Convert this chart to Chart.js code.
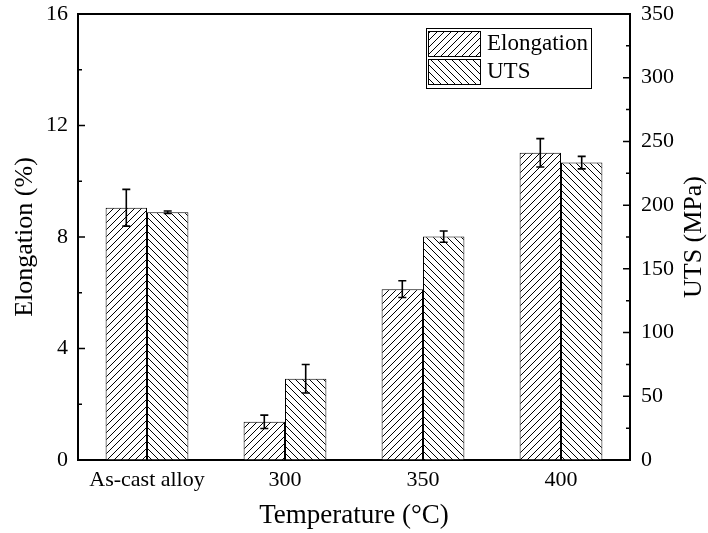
<!DOCTYPE html>
<html lang="en">
<head>
    <meta charset="UTF-8">
    <title>Elongation and UTS vs Temperature</title>
    <script src="https://cdn.jsdelivr.net/npm/chart.js"></script>
    <style>
body {
    margin: 0;
    padding: 0;
    background: #fff;
}

.wrap {
    width: 708px;
    height: 533px;
}
    </style>
</head>
<body>

    <div class="wrap">
        <canvas id="tensileChart" width="708" height="533"></canvas>
    </div>

    <script>
        const categories = ["As-cast alloy", "300", "350", "400"];
        const elongation = [9.05, 1.37, 6.13, 11.02];
        const elongationErr = [0.66, 0.24, 0.30, 0.51];
        const uts = [194.4, 63.8, 175.3, 233.4];
        const utsErr = [1.0, 11.2, 4.4, 4.9];

        const leftTicks = [0, 4, 8, 12, 16];
        const rightTicks = [0, 50, 100, 150, 200, 250, 300, 350];

        const SERIF = "'Liberation Serif', 'Times New Roman', serif";

        // diagonal hatch fill, dir 1 = "///", dir -1 = "\\\"
        function hatch(dir) {
            const n = 7;
            const c = document.createElement("canvas");
            c.width = n;
            c.height = n;
            const g = c.getContext("2d");
            g.fillStyle = "#fff";
            g.fillRect(0, 0, n, n);
            g.strokeStyle = "#000";
            g.lineWidth = 1;
            g.beginPath();
            if (dir > 0) {
                g.moveTo(-1, n + 1); g.lineTo(n + 1, -1);
                g.moveTo(-1, 1); g.lineTo(1, -1);
                g.moveTo(n - 1, n + 1); g.lineTo(n + 1, n - 1);
            } else {
                g.moveTo(-1, -1); g.lineTo(n + 1, n + 1);
                g.moveTo(n - 1, -1); g.lineTo(n + 1, 1);
                g.moveTo(-1, n - 1); g.lineTo(1, n + 1);
            }
            g.stroke();
            return g.createPattern(c, "repeat");
        }

        const errors = [elongationErr, utsErr];

        const errorBars = {
            id: "errorBars",
            afterDatasetsDraw(chart) {
                const ctx = chart.ctx;
                ctx.save();
                ctx.strokeStyle = "#000";
                ctx.lineWidth = 1.6;
                chart.data.datasets.forEach((ds, i) => {
                    const meta = chart.getDatasetMeta(i);
                    const scale = chart.scales[meta.yAxisID];
                    meta.data.forEach((bar, j) => {
                        const v = ds.data[j];
                        const e = errors[i][j];
                        const yTop = scale.getPixelForValue(v + e);
                        const yBot = scale.getPixelForValue(v - e);
                        ctx.beginPath();
                        ctx.moveTo(bar.x, yTop); ctx.lineTo(bar.x, yBot);
                        ctx.moveTo(bar.x - 4, yTop); ctx.lineTo(bar.x + 4, yTop);
                        ctx.moveTo(bar.x - 4, yBot); ctx.lineTo(bar.x + 4, yBot);
                        ctx.stroke();
                    });
                });
                ctx.restore();
            }
        };

        // top frame line, inward ticks, legend box, right axis title
        const decorations = {
            id: "decorations",
            afterDraw(chart) {
                const ctx = chart.ctx;
                const area = chart.chartArea;
                const yL = chart.scales.y;
                const yR = chart.scales.y1;
                ctx.save();
                ctx.strokeStyle = "#000";

                ctx.lineWidth = 2;
                ctx.beginPath();
                ctx.moveTo(area.left - 1, area.top);
                ctx.lineTo(area.right + 1, area.top);
                ctx.stroke();

                ctx.lineWidth = 1.5;
                ctx.beginPath();
                for (let i = 0; i < leftTicks.length; i++) {
                    const y = yL.getPixelForValue(leftTicks[i]);
                    ctx.moveTo(area.left, y); ctx.lineTo(area.left + 7, y);
                    if (i < leftTicks.length - 1) {
                        const ym = yL.getPixelForValue((leftTicks[i] + leftTicks[i + 1]) / 2);
                        ctx.moveTo(area.left, ym); ctx.lineTo(area.left + 4, ym);
                    }
                }
                for (let i = 0; i < rightTicks.length; i++) {
                    const y = yR.getPixelForValue(rightTicks[i]);
                    ctx.moveTo(area.right, y); ctx.lineTo(area.right - 7, y);
                    if (i < rightTicks.length - 1) {
                        const ym = yR.getPixelForValue((rightTicks[i] + rightTicks[i + 1]) / 2);
                        ctx.moveTo(area.right, ym); ctx.lineTo(area.right - 4, ym);
                    }
                }
                ctx.stroke();

                // legend
                const bx = area.right - 204, by = area.top + 14;
                ctx.lineWidth = 1;
                ctx.strokeRect(bx + 0.5, by + 0.5, 165, 60);
                chart.data.datasets.forEach((ds, i) => {
                    const sy = by + 3 + i * 28;
                    ctx.fillStyle = ds.backgroundColor;
                    ctx.fillRect(bx + 2, sy, 52, 25);
                    ctx.strokeRect(bx + 2.5, sy + 0.5, 52, 25);
                    ctx.fillStyle = "#000";
                    ctx.font = "23px " + SERIF;
                    ctx.textAlign = "left";
                    ctx.textBaseline = "middle";
                    ctx.fillText(ds.label, bx + 61, sy + 13);
                });

                // right title reads bottom-to-top
                ctx.save();
                ctx.translate(694, (area.top + area.bottom) / 2);
                ctx.rotate(-Math.PI / 2);
                ctx.fillStyle = "#000";
                ctx.font = "26px " + SERIF;
                ctx.textAlign = "center";
                ctx.textBaseline = "middle";
                ctx.fillText("UTS (MPa)", 0, 0);
                ctx.restore();

                ctx.restore();
            }
        };

        function fitVertical(s) {
            s.width = 78;
            s.paddingTop = 0;
            s.paddingBottom = 0;
        }

        new Chart(document.getElementById("tensileChart").getContext("2d"), {
            type: "bar",
            data: {
                labels: categories,
                datasets: [
                    { label: "Elongation", data: elongation, yAxisID: "y", backgroundColor: hatch(1), borderColor: "#000", borderWidth: 1 },
                    { label: "UTS", data: uts, yAxisID: "y1", backgroundColor: hatch(-1), borderColor: "#000", borderWidth: 1 }
                ]
            },
            options: {
                responsive: false,
                animation: false,
                layout: { padding: { top: 14, left: 0, right: 0, bottom: 0 } },
                datasets: { bar: { barPercentage: 1, categoryPercentage: 0.6 } },
                plugins: { legend: { display: false }, tooltip: { enabled: false } },
                scales: {
                    x: {
                        offset: true,
                        grid: { display: false, drawTicks: false },
                        border: { display: true, color: "#000", width: 2 },
                        ticks: { color: "#000", padding: 7, font: { family: SERIF, size: 22 } },
                        title: { display: true, text: "Temperature (°C)", color: "#000", padding: { top: 0, bottom: 1 }, font: { family: SERIF, size: 27 } },
                        afterFit: s => { s.height = 73; s.paddingLeft = 0; s.paddingRight = 0; }
                    },
                    y: {
                        position: "left",
                        min: 0,
                        max: 16,
                        afterBuildTicks: s => { s.ticks = leftTicks.map(v => ({ value: v })); },
                        grid: { drawOnChartArea: false, drawTicks: false },
                        border: { display: true, color: "#000", width: 2 },
                        ticks: { color: "#000", padding: 10, font: { family: SERIF, size: 22 } },
                        title: { display: true, text: "Elongation (%)", color: "#000", padding: { top: 10, bottom: 0 }, font: { family: SERIF, size: 26 } },
                        afterFit: fitVertical
                    },
                    y1: {
                        position: "right",
                        min: 0,
                        max: 350,
                        afterBuildTicks: s => { s.ticks = rightTicks.map(v => ({ value: v })); },
                        grid: { drawOnChartArea: false, drawTicks: false },
                        border: { display: true, color: "#000", width: 2 },
                        ticks: { color: "#000", padding: 11, font: { family: SERIF, size: 22 } },
                        afterFit: fitVertical
                    }
                }
            },
            plugins: [errorBars, decorations]
        });
    </script>
</body>
</html>
